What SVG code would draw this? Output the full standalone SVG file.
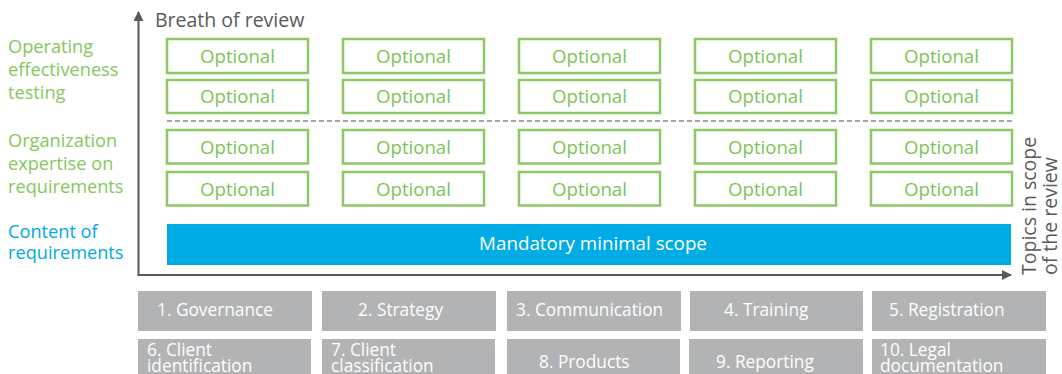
<svg xmlns="http://www.w3.org/2000/svg" width="1062" height="374" viewBox="0 0 1062 374">
  <defs>
    <marker id="arrow" viewBox="0 0 10 10" refX="9" refY="5" markerWidth="5" markerHeight="5" orient="auto" markerUnits="strokeWidth">
      <path d="M0,0 L10,5 L0,10 Z" fill="#58595b"/>
    </marker>
  </defs>
  <style>
    text { font-family: "Open Sans", "Noto Sans", "Liberation Sans", sans-serif; }
    .opt rect { fill: #ffffff; stroke: #8cc965; stroke-width: 2.5; }
    .opt text { fill: #7cc456; font-size: 18.6px; text-anchor: middle; }
    .lbl-g { fill: #86c75e; font-size: 18.2px; }
    .lbl-b { fill: #00a9e4; font-size: 18.2px; }
    .axis-title { fill: #58595b; font-size: 19.5px; }
    .topic rect { fill: #b1b3b4; }
    .topic text { fill: #ffffff; font-size: 17.3px; }
    .axis { stroke: #58595b; stroke-width: 2; fill: none; }
  </style>

  <!-- axes -->
  <g id="connectors">
    <line class="axis" x1="138.5" y1="275" x2="138.5" y2="12" marker-end="url(#arrow)"/>
    <line class="axis" x1="137.5" y1="275" x2="1011" y2="275" marker-end="url(#arrow)"/>
    <line x1="167" y1="121" x2="1012" y2="121" stroke="#8a8a8a" stroke-width="1.5" stroke-dasharray="5,3"/>
  </g>

  <!-- axis titles -->
  <g id="axis-titles">
    <text class="axis-title" x="155" y="26.5">Breath of review</text>
    <text class="axis-title" font-size="18.5" transform="translate(1036,275) rotate(-90)">Topics in scope</text>
    <text class="axis-title" font-size="18.5" transform="translate(1057,275) rotate(-90)">of the review</text>
  </g>

  <!-- row labels -->
  <g id="row-labels">
    <text class="lbl-g" x="8" y="53">Operating</text>
    <text class="lbl-g" x="8" y="76">effectiveness</text>
    <text class="lbl-g" x="8" y="99">testing</text>
    <text class="lbl-g" x="8" y="147">Organization</text>
    <text class="lbl-g" x="8" y="170">expertise on</text>
    <text class="lbl-g" x="8" y="193">requirements</text>
    <text class="lbl-b" x="8" y="238">Content of</text>
    <text class="lbl-b" x="8" y="259">requirements</text>
  </g>

  <!-- optional cells: 5 columns x 4 rows -->
  <g id="optional-cells" class="opt">
    <g id="opt-r1">
      <rect x="167" y="39" width="141" height="34"/><text x="237.5" y="63">Optional</text>
      <rect x="343" y="39" width="141" height="34"/><text x="413.5" y="63">Optional</text>
      <rect x="519" y="39" width="141" height="34"/><text x="589.5" y="63">Optional</text>
      <rect x="695" y="39" width="141" height="34"/><text x="765.5" y="63">Optional</text>
      <rect x="871" y="39" width="141" height="34"/><text x="941.5" y="63">Optional</text>
    </g>
    <g id="opt-r2">
      <rect x="167" y="80" width="141" height="33"/><text x="237.5" y="103">Optional</text>
      <rect x="343" y="80" width="141" height="33"/><text x="413.5" y="103">Optional</text>
      <rect x="519" y="80" width="141" height="33"/><text x="589.5" y="103">Optional</text>
      <rect x="695" y="80" width="141" height="33"/><text x="765.5" y="103">Optional</text>
      <rect x="871" y="80" width="141" height="33"/><text x="941.5" y="103">Optional</text>
    </g>
    <g id="opt-r3">
      <rect x="167" y="130" width="141" height="33.5"/><text x="237.5" y="154">Optional</text>
      <rect x="343" y="130" width="141" height="33.5"/><text x="413.5" y="154">Optional</text>
      <rect x="519" y="130" width="141" height="33.5"/><text x="589.5" y="154">Optional</text>
      <rect x="695" y="130" width="141" height="33.5"/><text x="765.5" y="154">Optional</text>
      <rect x="871" y="130" width="141" height="33.5"/><text x="941.5" y="154">Optional</text>
    </g>
    <g id="opt-r4">
      <rect x="167" y="172" width="141" height="33.5"/><text x="237.5" y="196">Optional</text>
      <rect x="343" y="172" width="141" height="33.5"/><text x="413.5" y="196">Optional</text>
      <rect x="519" y="172" width="141" height="33.5"/><text x="589.5" y="196">Optional</text>
      <rect x="695" y="172" width="141" height="33.5"/><text x="765.5" y="196">Optional</text>
      <rect x="871" y="172" width="141" height="33.5"/><text x="941.5" y="196">Optional</text>
    </g>
  </g>

  <!-- mandatory scope bar -->
  <g id="mandatory">
    <rect x="167" y="224" width="844" height="41" fill="#00ace6"/>
    <text x="593" y="250" fill="#ffffff" font-size="18.8" text-anchor="middle">Mandatory minimal scope</text>
  </g>

  <!-- topic boxes -->
  <g id="topics" class="topic">
    <g id="topic-1"><rect x="138" y="291" width="174" height="40"/><text x="157" y="316">1. Governance</text></g>
    <g id="topic-2"><rect x="322" y="291" width="174" height="40"/><text x="358" y="316">2. Strategy</text></g>
    <g id="topic-3"><rect x="507" y="291" width="174" height="40"/><text x="516" y="316">3. Communication</text></g>
    <g id="topic-4"><rect x="690" y="291" width="173" height="40"/><text x="724" y="316">4. Training</text></g>
    <g id="topic-5"><rect x="872" y="291" width="174" height="40"/><text x="889" y="316">5. Registration</text></g>
    <g id="topic-6"><rect x="138" y="339" width="173" height="40"/><text x="147" y="356">6. Client</text><text x="147" y="372">identification</text></g>
    <g id="topic-7"><rect x="322" y="339" width="173" height="40"/><text x="331" y="356">7. Client</text><text x="331" y="372">classification</text></g>
    <g id="topic-8"><rect x="507" y="339" width="173" height="40"/><text x="539" y="368">8. Products</text></g>
    <g id="topic-9"><rect x="689" y="339" width="174" height="40"/><text x="716" y="368">9. Reporting</text></g>
    <g id="topic-10"><rect x="872" y="339" width="174" height="40"/><text x="880" y="356">10. Legal</text><text x="880" y="372">documentation</text></g>
  </g>
</svg>
